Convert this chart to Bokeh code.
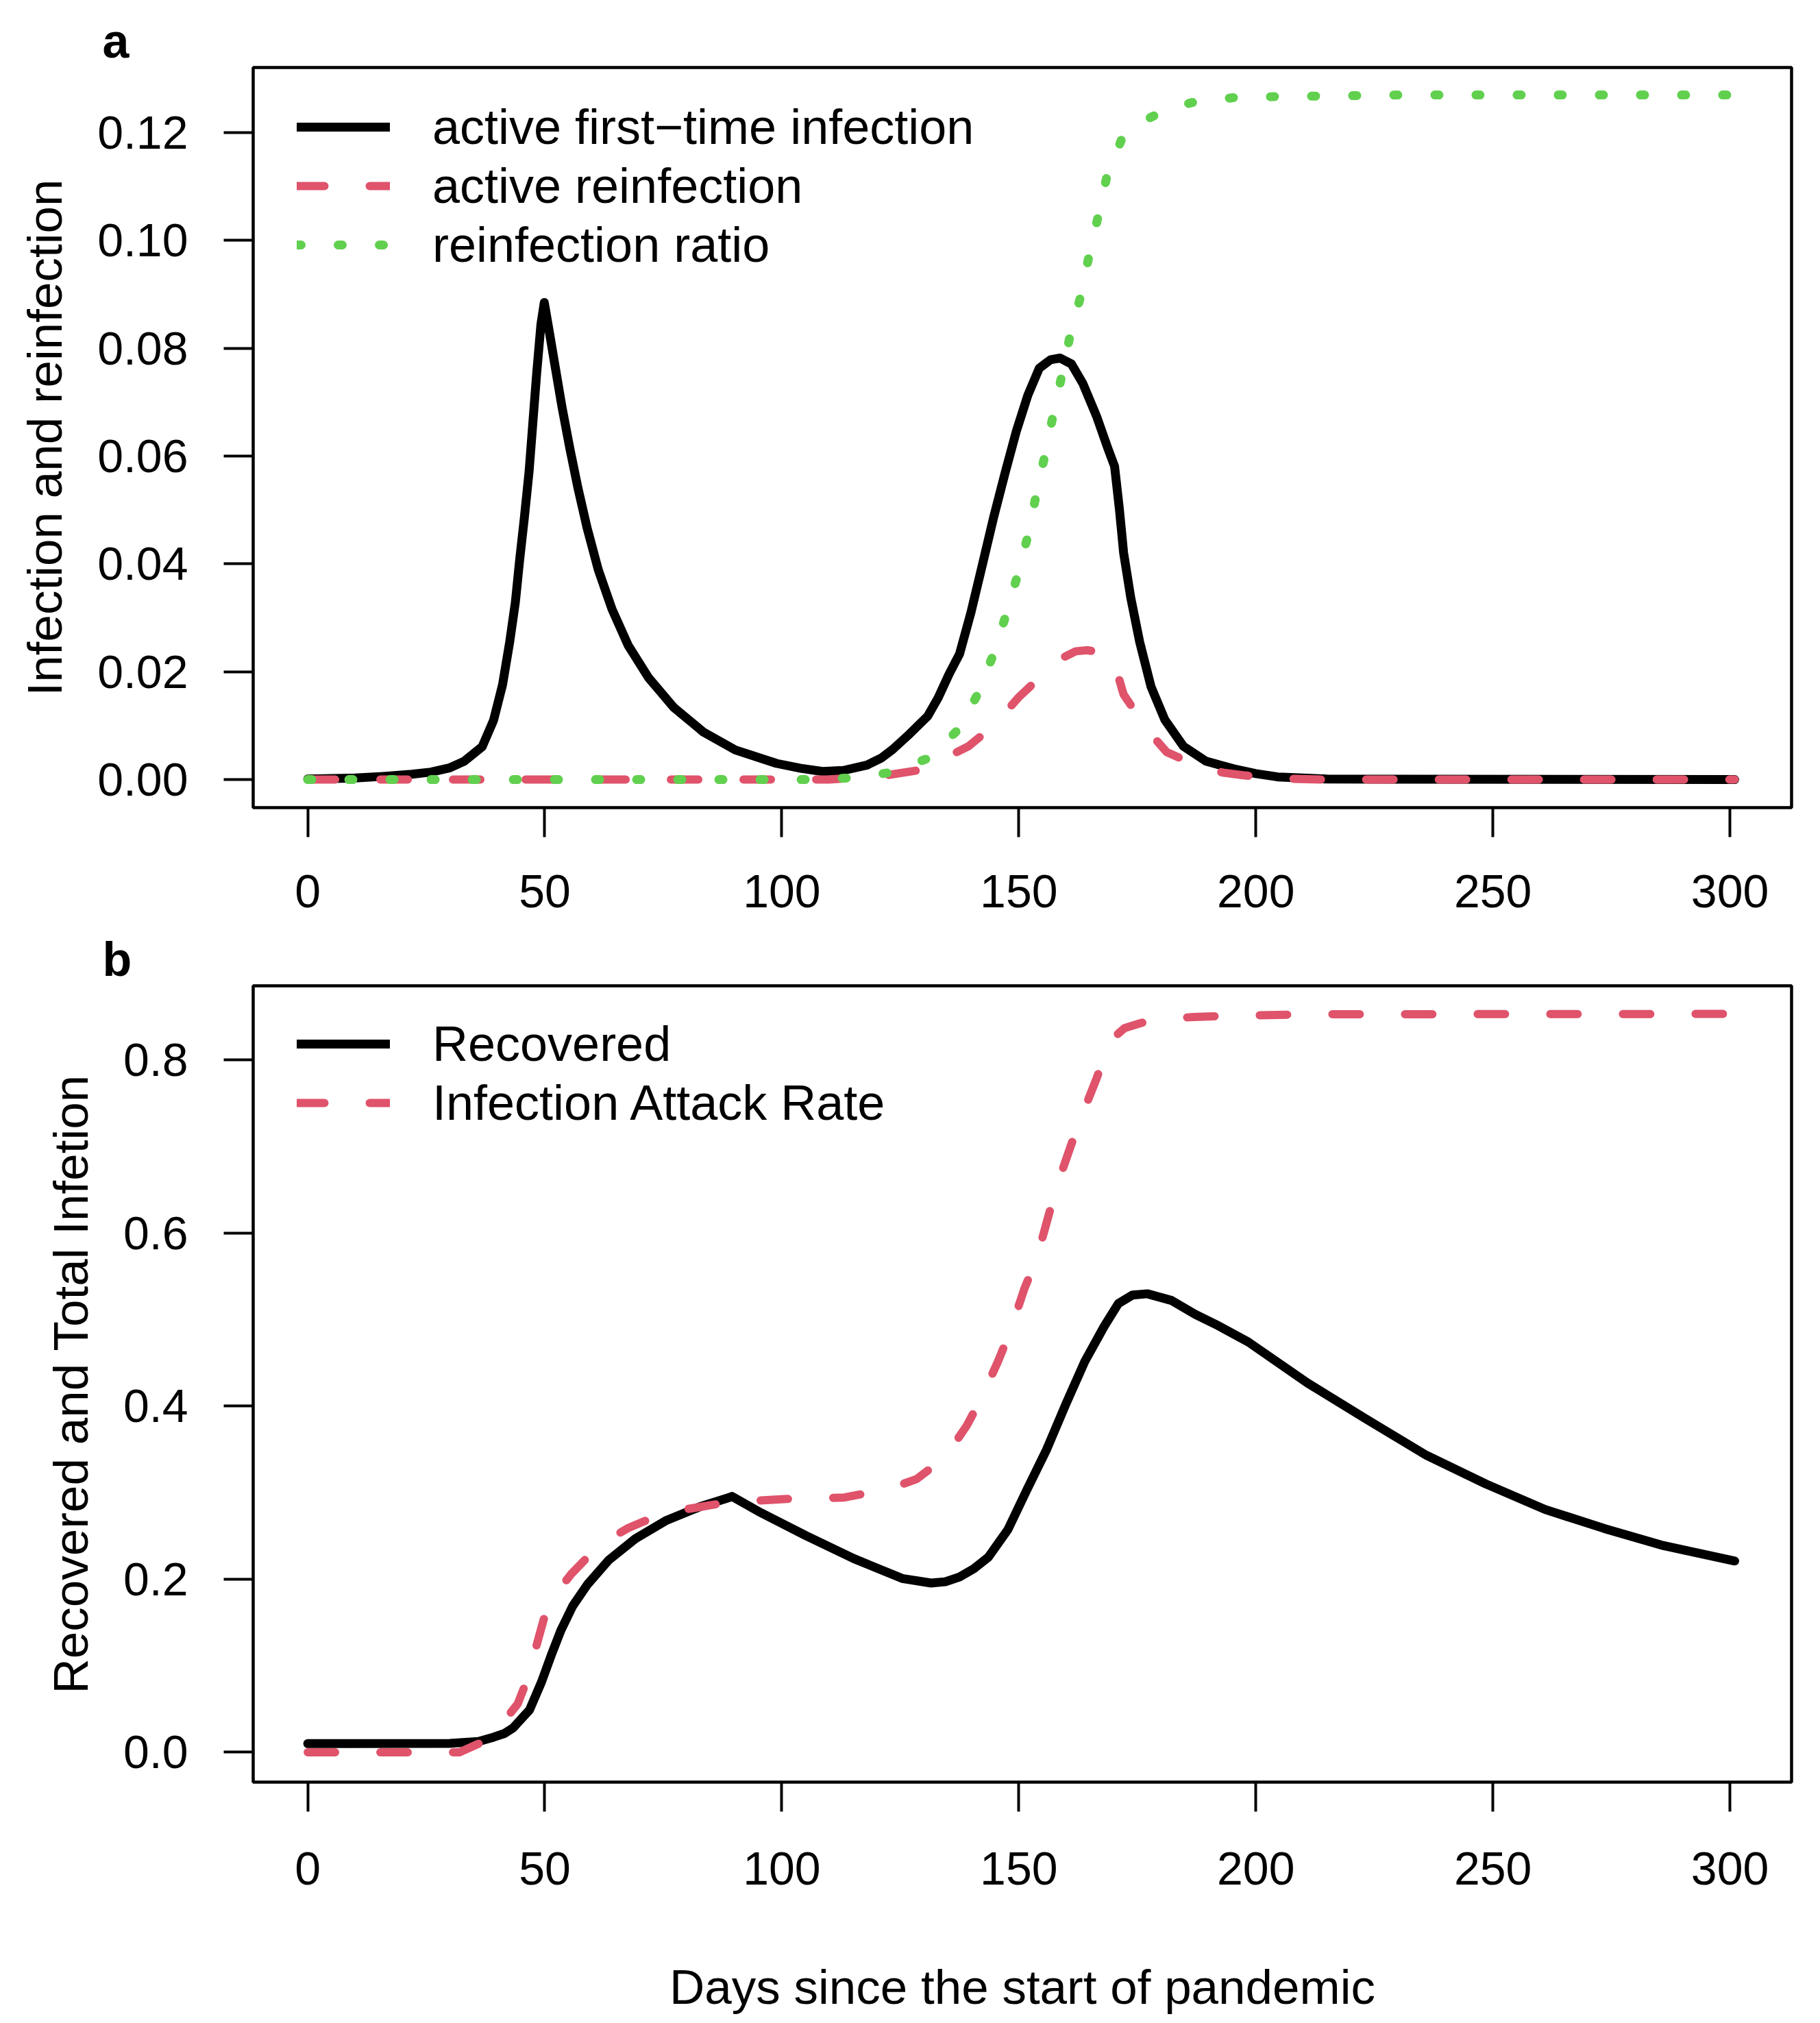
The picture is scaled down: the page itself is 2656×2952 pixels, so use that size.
from bokeh.plotting import figure
from bokeh.layouts import column
from bokeh.models import Range1d, FixedTicker, NumeralTickFormatter, Title
from bokeh.embed import file_html
from bokeh.resources import INLINE

FONT = "Liberation Sans"
BLACK = "#000000"
RED = "#DF536B"
GREEN = "#61D04F"

# ---- panel a: active infections ----
first_days = [0, 10, 16, 22, 26, 30, 33, 36.8, 39.2, 41.1, 42.6, 43.8, 44.7, 45.7, 46.7, 47.5,
              48.3, 49.2, 49.9, 50.8, 52.2, 53.6, 55.3, 57, 58.9, 61.3, 64.2, 67.6, 71.9, 77.2,
              83.5, 90.2, 98.9, 104, 108.6, 113, 118, 121, 123.4, 127, 130.8, 133, 135.3,
              137.5, 139.9, 142.3, 144.7, 147.1, 149.5, 151.9, 154.3, 156.7, 158.7, 161.1,
              163.5, 166.4, 168.8, 170.2, 171.2, 172.1, 173.6, 175.5, 177.9, 180.8, 184.7,
              189.5, 195.3, 200, 204.6, 215, 301]
first_vals = [0.0001, 0.0003, 0.0006, 0.001, 0.0014, 0.0022, 0.0034, 0.0061, 0.011, 0.0176,
              0.0255, 0.0329, 0.0407, 0.0486, 0.0572, 0.0663, 0.0754, 0.0845, 0.0885, 0.0839,
              0.0766, 0.0693, 0.0614, 0.0541, 0.0468, 0.0389, 0.0316, 0.0249, 0.0189, 0.0134,
              0.0088, 0.0055, 0.003, 0.0021, 0.0015, 0.0017, 0.0027, 0.004, 0.0056, 0.0085,
              0.0118, 0.0152, 0.0196, 0.0233, 0.031, 0.0398, 0.0487, 0.0569, 0.0647, 0.0713,
              0.0763, 0.0779, 0.0782, 0.0771, 0.0735, 0.0674, 0.0614, 0.0581, 0.0503, 0.0421,
              0.0338, 0.0255, 0.0172, 0.0111, 0.0062, 0.0034, 0.002, 0.0011, 0.0005, 0.0001,
              0.0]

reinf_days = [0, 110, 116, 122, 128.6, 134, 139.4, 144.7, 150, 155.3, 159, 162, 164.5, 166.4,
              169, 170.7, 172.1, 175.7, 178.5, 181.2, 187.5, 193, 197.3, 205, 215, 301]
reinf_vals = [0.0, 0.0, 0.0004, 0.0008, 0.0017, 0.0038, 0.0062, 0.010, 0.0153, 0.0197, 0.0225,
              0.0238, 0.0240, 0.0237, 0.0230, 0.020, 0.0158, 0.0111, 0.0078, 0.0051, 0.0026,
              0.0013, 0.0008, 0.0002, 0.0, 0.0]

ratio_days = [0, 108, 116, 122.7, 126, 130.8, 137.5, 141.1, 144.4, 147.1, 149.5, 151.7, 153.5,
              155.3, 157.1, 158.9, 160.7, 162.9, 164.7, 166.6, 168.5, 171.6, 175, 178.4, 182,
              186.5, 195.2, 203.9, 230, 301]
ratio_vals = [0.0, 0.0, 0.0004, 0.0013, 0.0024, 0.0039, 0.0095, 0.0155, 0.0227, 0.030, 0.0372,
              0.0445, 0.0521, 0.0594, 0.067, 0.0743, 0.0819, 0.0892, 0.0967, 0.104, 0.1116,
              0.1186, 0.1215, 0.1231, 0.1245, 0.1256, 0.1265, 0.1267, 0.127, 0.127]

# ---- panel b: cumulative ----
recov_days = [0, 30, 36, 39.2, 41.5, 43.3, 46.8, 49.3, 51.4, 53.4, 55.9, 59, 63.5, 69.1, 75.7,
              82.8, 88.9, 89.5, 95, 105.1, 115.2, 125.4, 131.5, 134.5, 137.5, 140.5, 143.6,
              147.7, 151.7, 155.8, 159.9, 163.9, 168, 171, 174, 177.1, 182.2, 187.2, 192,
              198.4, 210.9, 223.4, 236, 248.5, 261, 273.5, 286, 301]
recov_vals = [0.01, 0.0102, 0.0125, 0.0174, 0.0217, 0.028, 0.049, 0.081, 0.1126, 0.1408,
              0.169, 0.1938, 0.222, 0.2467, 0.268, 0.2838, 0.2943, 0.2956, 0.2785, 0.2502,
              0.2237, 0.2008, 0.1955, 0.197, 0.2026, 0.212, 0.2255, 0.2573, 0.3032, 0.349,
              0.402, 0.4514, 0.492, 0.5184, 0.5283, 0.5297, 0.522, 0.506, 0.493, 0.474,
              0.4266, 0.3845, 0.343, 0.310, 0.2805, 0.2585, 0.2387, 0.221]

attack_days = [0, 32, 36.2, 40, 44.3, 46.3, 48.8, 50.4, 53, 55.6, 60, 63.5, 67.6, 73.7, 78,
               82.3, 88.9, 101.1, 113.2, 119.8, 124, 128.4, 133.5, 136.5, 139, 142.1, 145.6,
               148.2, 151.2, 153.7, 156.1, 157.9, 160.9, 163.3, 166.3, 168.7, 170.5, 172.3,
               175.9, 180.9, 187, 194, 210.9, 301]
attack_vals = [0.0, 0.0, 0.0103, 0.026, 0.056, 0.084, 0.134, 0.1655, 0.188, 0.206, 0.231,
               0.246, 0.259, 0.2732, 0.279, 0.283, 0.289, 0.2926, 0.2943, 0.3014, 0.307,
               0.3155, 0.3367, 0.357, 0.3772, 0.409, 0.4514, 0.4866, 0.536, 0.569, 0.6166,
               0.652, 0.6997, 0.7355, 0.777, 0.8128, 0.828, 0.8366, 0.8427, 0.8474, 0.8495,
               0.8508, 0.8526, 0.853]

x_ticks = [0, 50, 100, 150, 200, 250, 300]
ya_ticks = [0.0, 0.02, 0.04, 0.06, 0.08, 0.10, 0.12]
yb_ticks = [0.0, 0.2, 0.4, 0.6, 0.8]


def make_panel(letter, height, top, bottom, y_range, ylabel, yticks, yfmt, xlabel=None):
    p = figure(width=2640, height=height, output_backend="svg", toolbar_location=None,
               tools="", title=None, x_range=Range1d(-11.5, 313), y_range=Range1d(*y_range),
               min_border_left=369, min_border_right=26,
               min_border_top=top, min_border_bottom=bottom)
    p.grid.visible = False
    p.outline_line_color = "black"
    p.outline_line_width = 4.5
    p.outline_line_alpha = 1.0
    p.background_fill_color = "white"
    p.border_fill_color = "white"

    # panel letter, left of the frame
    p.add_layout(Title(text=letter, align="left", offset=-220, standoff=0,
                       text_font=FONT, text_font_size="70px", text_font_style="bold",
                       text_color="black"), "above")

    for ax in (p.xaxis[0], p.yaxis[0]):
        ax.axis_line_color = None
        ax.major_tick_in = 0
        ax.major_tick_out = 43
        ax.major_tick_line_width = 4
        ax.major_tick_line_color = "black"
        ax.minor_tick_line_color = None
        ax.major_label_text_font = FONT
        ax.major_label_text_font_size = "68px"
        ax.major_label_text_color = "black"
        ax.axis_label_text_font = FONT
        ax.axis_label_text_font_size = "71px"
        ax.axis_label_text_font_style = "normal"
        ax.axis_label_text_color = "black"

    p.xaxis.ticker = FixedTicker(ticks=x_ticks)
    p.xaxis.major_label_standoff = 55
    p.yaxis.ticker = FixedTicker(ticks=yticks)
    p.yaxis.formatter = NumeralTickFormatter(format=yfmt)
    p.yaxis.major_label_standoff = 52
    p.yaxis.axis_label = ylabel
    p.yaxis.axis_label_standoff = 34
    if xlabel:
        p.xaxis.major_label_standoff = 59
        p.xaxis.axis_label = xlabel
        p.xaxis.axis_label_standoff = 107
    return p


pa = make_panel("a", 1358, 98, 180, (-0.0052, 0.1321), "Infection and reinfection",
                ya_ticks, "0.00")
pa.line(first_days, first_vals, color=BLACK, line_width=13, line_cap="round",
        line_join="round", legend_label="active first\u2212time infection")
pa.line(reinf_days, reinf_vals, color=RED, line_width=12, line_cap="round",
        line_join="round", line_dash="40 66", legend_label="active reinfection")
pa.line(ratio_days, ratio_vals, color=GREEN, line_width=13, line_cap="round",
        line_join="round", line_dash="6 54", legend_label="reinfection ratio")

pb = make_panel("b", 1590, 78, 348, (-0.0345, 0.8855), "Recovered and Total Infetion",
                yb_ticks, "0.0", xlabel="Days since the start of pandemic")
pb.line(recov_days, recov_vals, color=BLACK, line_width=13, line_cap="round",
        line_join="round", legend_label="Recovered")
pb.line(attack_days, attack_vals, color=RED, line_width=12, line_cap="round",
        line_join="round", line_dash="40 66", legend_label="Infection Attack Rate")

for p, loc in ((pa, (64, 778)), (pb, (64, 948))):
    lg = p.legend[0]
    lg.location = loc
    lg.margin = 0
    lg.padding = 0
    lg.spacing = 0
    lg.border_line_color = None
    lg.background_fill_alpha = 0
    lg.glyph_width = 136
    lg.glyph_height = 86
    lg.label_height = 86
    lg.label_standoff = 62
    lg.label_text_font = FONT
    lg.label_text_font_size = "72px"
    lg.label_text_color = "black"

layout = column(pa, pb, spacing=0)
open("out.html", "w").write(file_html(layout, INLINE))
